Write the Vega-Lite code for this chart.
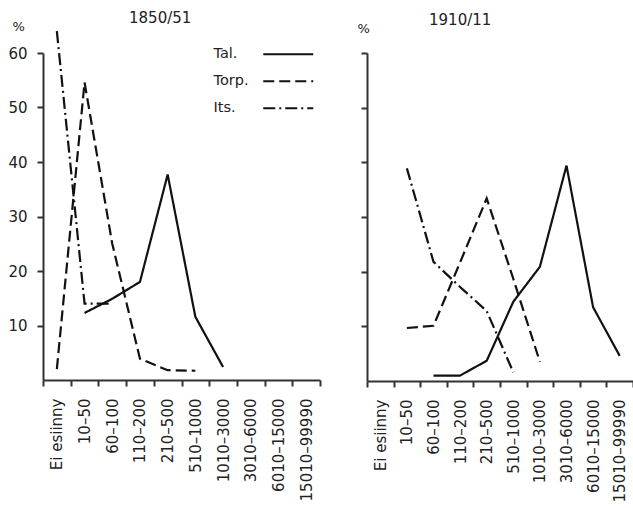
{
  "$schema": "https://vega.github.io/schema/vega-lite/v6.json",
  "padding": {"left": 7, "top": 11, "right": 0, "bottom": 0},
  "background": "white",
  "config": {
    "view": {"stroke": null},
    "font": "DejaVu Sans",
    "axis": {"domainColor": "#333", "domainWidth": 2, "tickColor": "#333", "tickWidth": 2, "tickSize": 6, "labelColor": "#222", "grid": false, "labelFont": "DejaVu Sans", "titleFont": "DejaVu Sans", "titleFontWeight": "normal", "titleColor": "#222"},
    "title": {"fontSize": 15, "fontWeight": "normal", "color": "#222", "font": "DejaVu Sans"},
    "concat": {"spacing": 36}
  },
  "datasets": {
    "d": [
      {"panel": "1850/51", "series": "Tal.", "cls": "10–50", "k": 1, "pct": 12.3},
      {"panel": "1850/51", "series": "Tal.", "cls": "60–100", "k": 2, "pct": 14.9},
      {"panel": "1850/51", "series": "Tal.", "cls": "110–200", "k": 3, "pct": 18},
      {"panel": "1850/51", "series": "Tal.", "cls": "210–500", "k": 4, "pct": 37.7},
      {"panel": "1850/51", "series": "Tal.", "cls": "510–1000", "k": 5, "pct": 11.6},
      {"panel": "1850/51", "series": "Tal.", "cls": "1010–3000", "k": 6, "pct": 2.4},
      {"panel": "1850/51", "series": "Torp.", "cls": "Ei esiinny", "k": 0, "pct": 2},
      {"panel": "1850/51", "series": "Torp.", "cls": "10–50", "k": 1, "pct": 54.6},
      {"panel": "1850/51", "series": "Torp.", "cls": "60–100", "k": 2, "pct": 25},
      {"panel": "1850/51", "series": "Torp.", "cls": "110–200", "k": 3, "pct": 3.9},
      {"panel": "1850/51", "series": "Torp.", "cls": "210–500", "k": 4, "pct": 1.8},
      {"panel": "1850/51", "series": "Torp.", "cls": "510–1000", "k": 5, "pct": 1.7},
      {"panel": "1850/51", "series": "Its.", "cls": "Ei esiinny", "k": 0, "pct": 64},
      {"panel": "1850/51", "series": "Its.", "cls": "10–50", "k": 1, "pct": 14},
      {"panel": "1850/51", "series": "Its.", "cls": "60–100", "k": 2, "pct": 14},
      {"panel": "1910/11", "series": "Tal.", "cls": "60–100", "k": 2, "pct": 1},
      {"panel": "1910/11", "series": "Tal.", "cls": "110–200", "k": 3, "pct": 1},
      {"panel": "1910/11", "series": "Tal.", "cls": "210–500", "k": 4, "pct": 3.7},
      {"panel": "1910/11", "series": "Tal.", "cls": "510–1000", "k": 5, "pct": 14.5},
      {"panel": "1910/11", "series": "Tal.", "cls": "1010–3000", "k": 6, "pct": 20.9},
      {"panel": "1910/11", "series": "Tal.", "cls": "3010–6000", "k": 7, "pct": 39.4},
      {"panel": "1910/11", "series": "Tal.", "cls": "6010–15000", "k": 8, "pct": 13.5},
      {"panel": "1910/11", "series": "Tal.", "cls": "15010–99990", "k": 9, "pct": 4.6},
      {"panel": "1910/11", "series": "Torp.", "cls": "10–50", "k": 1, "pct": 9.7},
      {"panel": "1910/11", "series": "Torp.", "cls": "60–100", "k": 2, "pct": 10.1},
      {"panel": "1910/11", "series": "Torp.", "cls": "110–200", "k": 3, "pct": 21.7},
      {"panel": "1910/11", "series": "Torp.", "cls": "210–500", "k": 4, "pct": 33.4},
      {"panel": "1910/11", "series": "Torp.", "cls": "510–1000", "k": 5, "pct": 18.7},
      {"panel": "1910/11", "series": "Torp.", "cls": "1010–3000", "k": 6, "pct": 3.5},
      {"panel": "1910/11", "series": "Its.", "cls": "10–50", "k": 1, "pct": 38.9},
      {"panel": "1910/11", "series": "Its.", "cls": "60–100", "k": 2, "pct": 21.8},
      {"panel": "1910/11", "series": "Its.", "cls": "110–200", "k": 3, "pct": 17.2},
      {"panel": "1910/11", "series": "Its.", "cls": "210–500", "k": 4, "pct": 12.8},
      {"panel": "1910/11", "series": "Its.", "cls": "510–1000", "k": 5, "pct": 1.6}
    ]
  },
  "resolve": {"legend": {"strokeDash": "independent"}},
  "hconcat": [
    {
      "width": 277,
      "height": 327,
      "title": {"text": "1850/51", "anchor": "start", "frame": "group", "dx": 86, "dy": 10},
      "data": {"name": "d"},
      "transform": [{"filter": "datum.panel === '1850/51'"}],
      "mark": {"type": "line", "strokeWidth": 2.2, "color": "#111", "clip": false},
      "encoding": {
        "x": {"field": "cls", "type": "ordinal", "scale": {"type": "band", "domain": ["Ei esiinny", "10–50", "60–100", "110–200", "210–500", "510–1000", "1010–3000", "3010–6000", "6010–15000", "15010–99990"], "paddingInner": 0, "paddingOuter": 0}, "axis": {"title": null, "labelAngle": -90, "labelFontSize": 15, "labelPadding": 12, "tickBand": "extent"}},
        "y": {"field": "pct", "type": "quantitative", "scale": {"domain": [0, 60], "nice": false}, "axis": {"values": [10, 20, 30, 40, 50, 60], "labelFontSize": 15, "labelPadding": 10, "title": "%", "titleAngle": 0, "titleX": -31, "titleY": -23, "titleAlign": "left", "titleBaseline": "alphabetic", "titleFontSize": 13}},
        "order": {"field": "k", "type": "quantitative"},
        "strokeDash": {"field": "series", "type": "nominal", "scale": {"domain": ["Tal.", "Torp.", "Its."], "range": [[1, 0], [11, 5], [12, 4, 2, 4]]}, "legend": {"orient": "none", "legendX": 238, "legendY": -6, "title": null, "symbolType": "M-5,0H5", "symbolSize": 100, "symbolStrokeWidth": 2.2, "symbolStrokeColor": "#111", "labelFontSize": 14.5, "labelFont": "DejaVu Sans", "labelColor": "#222", "labelOffset": -82, "labelAlign": "left", "rowPadding": 12, "padding": 0}}
      }
    },
    {
      "width": 266,
      "height": 328,
      "title": {"text": "1910/11", "anchor": "start", "frame": "group", "dx": 62, "dy": 10},
      "data": {"name": "d"},
      "transform": [{"filter": "datum.panel === '1910/11'"}],
      "mark": {"type": "line", "strokeWidth": 2.2, "color": "#111", "clip": false},
      "encoding": {
        "x": {"field": "cls", "type": "ordinal", "scale": {"type": "band", "domain": ["Ei esiinny", "10–50", "60–100", "110–200", "210–500", "510–1000", "1010–3000", "3010–6000", "6010–15000", "15010–99990"], "paddingInner": 0, "paddingOuter": 0}, "axis": {"title": null, "labelAngle": -90, "labelFontSize": 15, "labelPadding": 12, "tickBand": "extent"}},
        "y": {"field": "pct", "type": "quantitative", "scale": {"domain": [0, 60], "nice": false}, "axis": {"values": [10, 20, 30, 40, 50, 60], "labels": false, "title": "%", "titleAngle": 0, "titleX": -10, "titleY": -21, "titleAlign": "left", "titleBaseline": "alphabetic", "titleFontSize": 13}},
        "order": {"field": "k", "type": "quantitative"},
        "strokeDash": {"field": "series", "type": "nominal", "scale": {"domain": ["Tal.", "Torp.", "Its."], "range": [[1, 0], [11, 5], [12, 4, 2, 4]]}, "legend": null}
      }
    }
  ]
}
